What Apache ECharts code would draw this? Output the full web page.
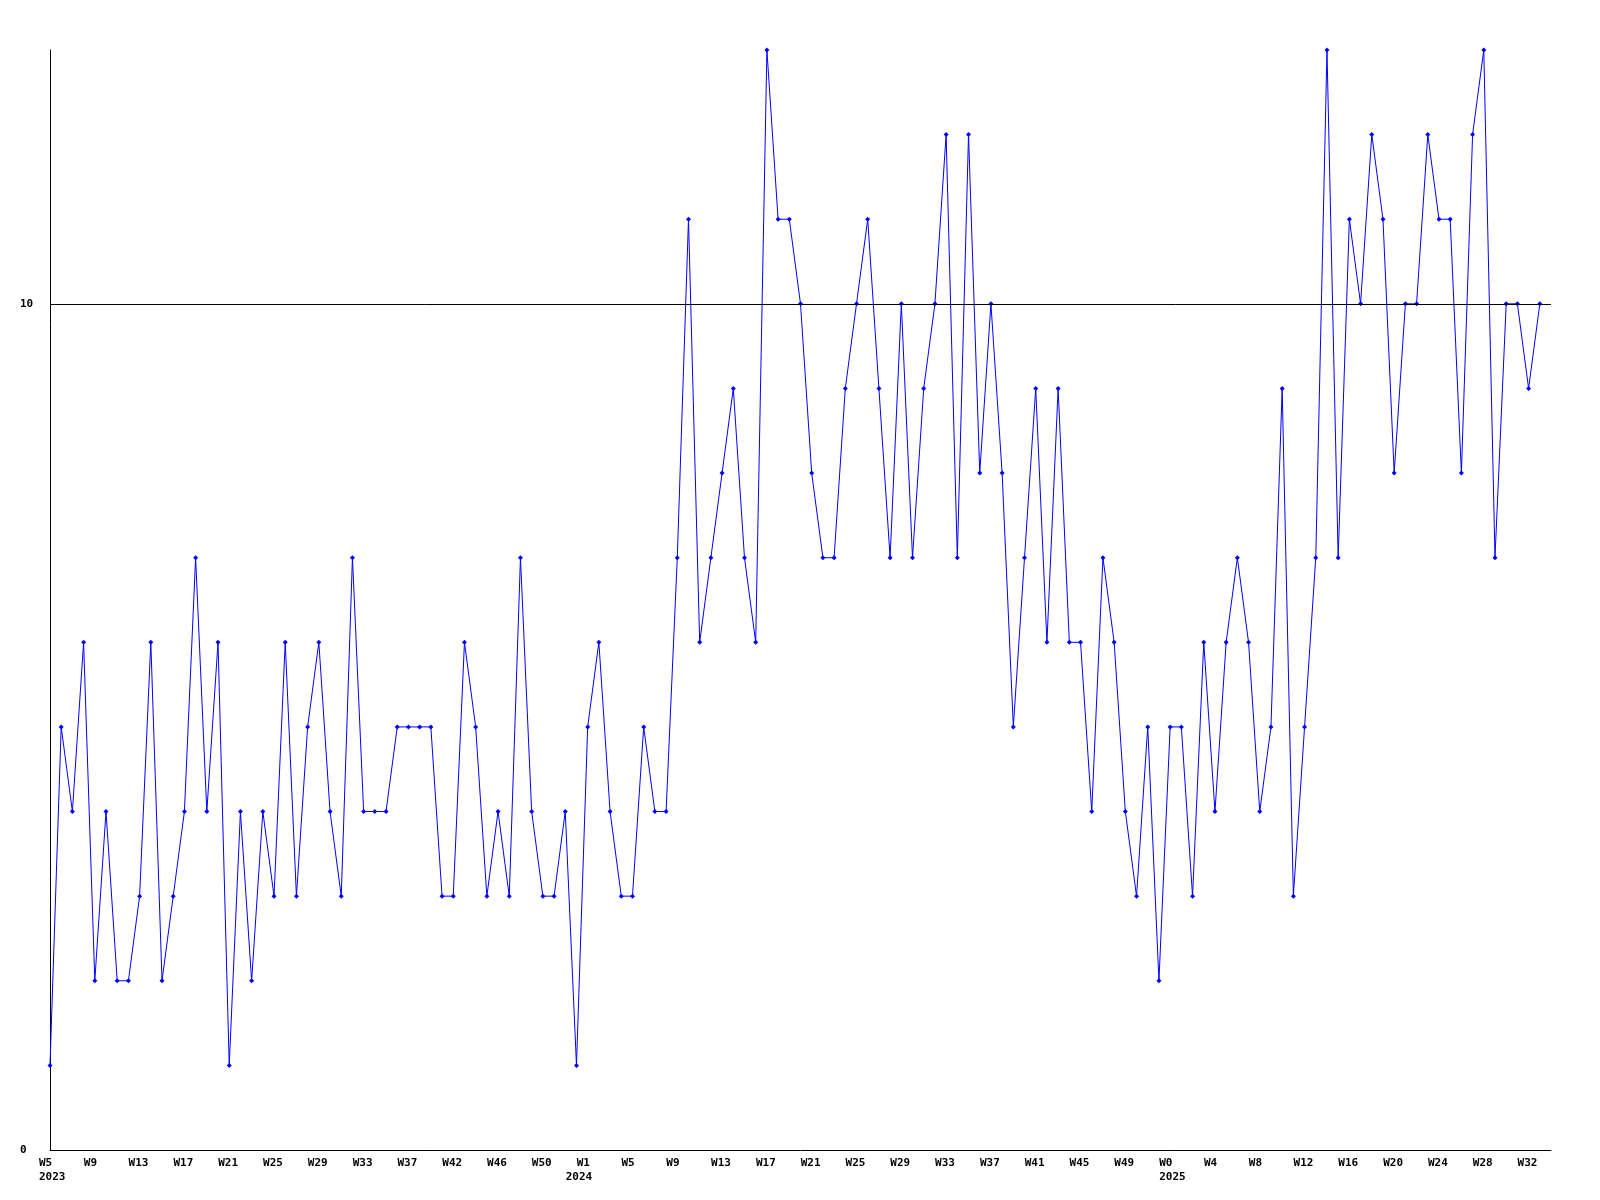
<!DOCTYPE html>
<html>
<head>
<meta charset="utf-8">
<script src="https://cdn.jsdelivr.net/npm/echarts@6/dist/echarts.min.js"></script>
<style>
html,body{margin:0;padding:0;background:#fff;}
#chart{width:1600px;height:1200px;}
</style>
</head>
<body>
<div id="chart"></div>
<script>
// Week categories (first week of each year carries the year on a second line)
const categories = [
  'W5\n2023','W6','W7','W8','W9','W10','W11','W12','W13','W14','W15','W16','W17','W18','W19','W20',
  'W21','W22','W23','W24','W25','W26','W27','W28','W29','W30','W31','W32','W33','W34','W35','W36',
  'W37','W38','W39','W40','W42','W43','W44','W45','W46','W47','W48','W49','W50','W51','W52','W53',
  'W1\n2024','W2','W3','W4','W5','W6','W7','W8','W9','W10','W11','W12','W13','W14','W15','W16',
  'W17','W18','W19','W20','W21','W22','W23','W24','W25','W26','W27','W28','W29','W30','W31','W32',
  'W33','W34','W35','W36','W37','W38','W39','W40','W41','W42','W43','W44','W45','W46','W47','W48',
  'W49','W50','W51','W52',
  'W0\n2025','W1','W2','W3','W4','W5','W6','W7','W8','W9','W10','W11','W12','W13','W14','W15',
  'W16','W17','W18','W19','W20','W21','W22','W23','W24','W25','W26','W27','W28','W29','W30','W31',
  'W32','W33','W34'
];

// Weekly values
const values = [
  1,5,4,6,2,4,2,2,3,6,
  2,3,4,7,4,6,1,4,2,4,
  3,6,3,5,6,4,3,7,4,4,
  4,5,5,5,5,3,3,6,5,3,
  4,3,7,4,3,3,4,1,5,6,
  4,3,3,5,4,4,7,11,6,7,
  8,9,7,6,13,11,11,10,8,7,
  7,9,10,11,9,7,10,7,9,10,
  12,7,12,8,10,8,5,7,9,6,
  9,6,6,4,7,6,4,3,5,2,
  5,5,3,6,4,6,7,6,4,5,
  9,3,5,7,13,7,11,10,12,11,
  8,10,10,12,11,11,8,12,13,7,
  10,10,9,10
];

// years whose label sits one step further left in the reference
const shiftedYears = ['2024'];

const referenceLine = 10;
const yMin = 0, yMax = 13, yInterval = 10;

const FONT = 'DejaVu Sans Mono';
const chart = echarts.init(document.getElementById('chart'), null, {renderer: 'canvas'});
chart.setOption({
  animation: false,
  backgroundColor: '#ffffff',
  grid: {left: 50, right: 49, top: 50, bottom: 50, containLabel: false},
  xAxis: {
    type: 'category',
    data: categories,
    boundaryGap: false,
    axisLine: {show: true, onZero: false, lineStyle: {color: '#000', width: 1}},
    axisTick: {show: false},
    splitLine: {show: false},
    axisLabel: {
      interval: 3,
      color: '#000',
      fontFamily: FONT,
      fontWeight: 'bold',
      fontSize: 11,
      lineHeight: 14,
      align: 'left',
      padding: [0, 0, 0, -11],
      margin: 6,
      formatter: function (v) {
        const parts = v.split('\n');
        if (parts.length === 1) return '{w|' + parts[0] + '}';
        const st = shiftedYears.indexOf(parts[1]) >= 0 ? 'ys' : 'y';
        return '{w|' + parts[0] + '}\n{' + st + '|' + parts[1] + '}';
      },
      rich: {
        w: {fontFamily: FONT, fontWeight: 'bold', fontSize: 11, lineHeight: 14, color: '#000'},
        y: {fontFamily: FONT, fontWeight: 'bold', fontSize: 11, lineHeight: 14, color: '#000'},
        ys: {fontFamily: FONT, fontWeight: 'bold', fontSize: 11, lineHeight: 14, color: '#000', padding: [0, 0, 0, -11]}
      }
    }
  },
  yAxis: {
    type: 'value',
    min: yMin,
    max: yMax,
    interval: yInterval,
    axisLine: {show: true, lineStyle: {color: '#000', width: 1}},
    axisTick: {show: false},
    splitLine: {show: false},
    axisLabel: {
      showMaxLabel: false,
      color: '#000',
      fontFamily: FONT,
      fontWeight: 'bold',
      fontSize: 11,
      align: 'left',
      margin: 30
    }
  },
  series: [{
    type: 'line',
    data: values,
    symbol: 'diamond',
    symbolSize: 5,
    showAllSymbol: true,
    itemStyle: {color: '#0000ff'},
    lineStyle: {color: '#0000ff', width: 1},
    markLine: {
      silent: true,
      symbol: 'none',
      label: {show: false},
      lineStyle: {color: '#000', width: 1, type: 'solid'},
      data: [{yAxis: referenceLine}]
    }
  }]
});
</script>
</body>
</html>
